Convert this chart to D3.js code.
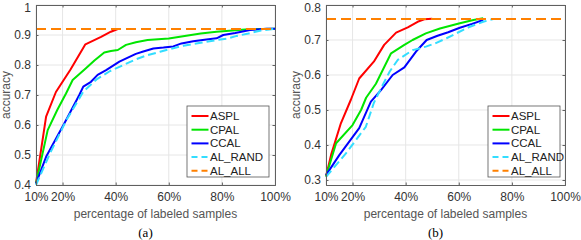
<!DOCTYPE html>
<html><head><meta charset="utf-8">
<script src="https://cdn.jsdelivr.net/npm/d3@7/dist/d3.min.js"></script>
<style>body{margin:0;background:#fff}svg{display:block}</style>
</head><body>
<svg id="c" width="581" height="240"></svg>
<script>
// ---- data ----
const xTicks = [10, 20, 40, 60, 80, 100];
const xTickLabels = ["10%", "20%", "40%", "60%", "80%", "100%"];
const seriesNames = ["ASPL", "CPAL", "CCAL", "AL_RAND", "AL_ALL"];

// panel (a)
const aYTicks = [0.4, 0.5, 0.6, 0.7, 0.8, 0.9, 1];
const aYTickLabels = ["0.4", "0.5", "0.6", "0.7", "0.8", "0.9", "1"];
const aASPL = [[10,0.405],[13.8,0.628],[17.5,0.71],[23,0.785],[28.6,0.869],[34.5,0.894],[38.2,0.911],[40.8,0.92]];
const aCPAL = [[10,0.405],[14.4,0.583],[18,0.65],[21.3,0.705],[23.8,0.75],[28.8,0.789],[32,0.815],[35.7,0.842],[38.2,0.847],[40.8,0.85],[43.9,0.867],[47.6,0.876],[52,0.883],[56,0.886],[60,0.888],[66,0.897],[72,0.905],[78,0.911],[84,0.915],[90,0.919],[100,0.921]];
const aCCAL = [[10,0.405],[13.8,0.494],[20.7,0.606],[26.3,0.70],[27.8,0.728],[30.7,0.744],[33.2,0.767],[36.4,0.783],[41.4,0.811],[47.6,0.837],[50.4,0.845],[54.2,0.855],[58,0.858],[61.7,0.862],[64.8,0.872],[69.2,0.879],[74.2,0.885],[78,0.889],[80.5,0.9],[85,0.907],[90.6,0.917],[96.9,0.921],[100,0.921]];
const aRAND = [[10,0.40],[15.3,0.506],[21.5,0.617],[27.8,0.711],[32.8,0.752],[37.9,0.78],[42.9,0.80],[47.6,0.819],[52,0.833],[56.7,0.844],[61.7,0.856],[65.5,0.864],[72,0.874],[78,0.883],[82,0.888],[85.6,0.897],[90,0.905],[94.3,0.914],[100,0.921]];
const aALL = [[10,0.92],[100,0.92]];

// panel (b)
const bYTicks = [0.3, 0.4, 0.5, 0.6, 0.7, 0.8];
const bYTickLabels = ["0.3", "0.4", "0.5", "0.6", "0.7", "0.8"];
const bASPL = [[10,0.31],[12,0.374],[15.6,0.462],[19.4,0.53],[22.5,0.59],[28,0.638],[31.9,0.686],[36.4,0.721],[40.8,0.736],[44.5,0.752],[47,0.759],[50,0.761]];
const bCPAL = [[10,0.31],[13.8,0.405],[20,0.457],[23.2,0.5],[25.1,0.535],[28.8,0.575],[34.5,0.662],[39.5,0.686],[42.6,0.7],[47.6,0.719],[52.9,0.733],[60.4,0.748],[65.5,0.757],[69.2,0.762]];
const bCCAL = [[10,0.314],[15,0.371],[22.5,0.448],[26.9,0.524],[30.7,0.557],[35.1,0.6],[39.5,0.622],[43.9,0.667],[47.9,0.70],[52,0.712],[56,0.722],[60.4,0.735],[65,0.746],[69.2,0.757]];
const bRAND = [[10,0.309],[17.5,0.376],[25,0.452],[28,0.52],[31.3,0.571],[34,0.61],[37,0.643],[42.6,0.671],[47.6,0.681],[51,0.69],[55.4,0.705],[61.7,0.729],[64.2,0.738],[69.2,0.752],[73,0.76]];
const bALL = [[10,0.76],[100,0.76]];

// ---- drawing ----
const colors = ["#ff0000", "#00e600", "#0000ff", "#33ddff", "#ff8000"];
const dashes = [null, null, null, "8,4", "10,5"];
const svg = d3.select("#c");

const panels = [
  {left:36, right:275, top:5, bottom:185, yDomain:[0.4,1.0], yTicks:aYTicks, yLabels:aYTickLabels,
   series:[aASPL,aCPAL,aCCAL,aRAND,aALL], caption:"(a)", legX:187, legW:82},
  {left:326, right:565, top:5, bottom:185, yDomain:[0.2857,0.8], yTicks:bYTicks, yLabels:bYTickLabels,
   series:[bASPL,bCPAL,bCCAL,bRAND,bALL], caption:"(b)", legX:488, legW:72}
];

const font = "'Liberation Sans', Arial, Helvetica, sans-serif";

panels.forEach(p => {
  const x = d3.scaleLinear().domain([10,100]).range([p.left, p.right]);
  const y = d3.scaleLinear().domain(p.yDomain).range([p.bottom, p.top]);
  const g = svg.append("g");

  // grid
  g.append("g").selectAll("line").data(xTicks).join("line")
    .attr("x1", d => x(d)).attr("x2", d => x(d)).attr("y1", p.top).attr("y2", p.bottom)
    .attr("stroke", "#e6e6e6").attr("stroke-width", 1);
  g.append("g").selectAll("line").data(p.yTicks).join("line")
    .attr("y1", d => y(d)).attr("y2", d => y(d)).attr("x1", p.left).attr("x2", p.right)
    .attr("stroke", "#e6e6e6").attr("stroke-width", 1);

  // series lines
  const line = d3.line().x(d => x(d[0])).y(d => y(d[1]));
  p.series.forEach((s, i) => {
    g.append("path").datum(s).attr("d", line).attr("fill", "none")
      .attr("stroke", colors[i]).attr("stroke-width", 2)
      .attr("stroke-linejoin", "round")
      .attr("stroke-dasharray", dashes[i]);
  });

  // axes
  const xAxis = d3.axisBottom(x).tickValues(xTicks).tickFormat((d,i) => xTickLabels[i]).tickSize(-2.5).tickPadding(7);
  const yAxis = d3.axisLeft(y).tickValues(p.yTicks).tickFormat((d,i) => p.yLabels[i]).tickSize(-2.5).tickPadding(5);
  const xTop = d3.axisTop(x).tickValues(xTicks).tickFormat("").tickSize(-2.5);
  const yRight = d3.axisRight(y).tickValues(p.yTicks).tickFormat("").tickSize(-2.5);
  [[xAxis, `translate(0,${p.bottom})`], [yAxis, `translate(${p.left},0)`],
   [xTop, `translate(0,${p.top})`], [yRight, `translate(${p.right},0)`]].forEach(([ax, tr]) => {
    const a = g.append("g").attr("transform", tr).call(ax);
    a.select(".domain").attr("stroke", "#606060").attr("stroke-width", 1);
    a.selectAll(".tick line").attr("stroke", "#606060");
    a.selectAll("text").attr("font-family", font).attr("font-size", 12).attr("fill", "#333");
  });
  // keep the topmost y tick label inside the picture
  g.selectAll("text").filter(function() { return this.textContent === p.yLabels[p.yLabels.length - 1]; })
    .attr("dy", "0.5em");

  // axis labels
  svg.append("text").attr("x", (p.left + p.right) / 2).attr("y", 218)
    .attr("text-anchor", "middle").attr("font-family", font).attr("font-size", 12)
    .attr("fill", "#555").text("percentage of labeled samples");
  svg.append("text").attr("transform", `translate(${p.left - 26},${(p.top + p.bottom) / 2}) rotate(-90)`)
    .attr("text-anchor", "middle").attr("font-family", font).attr("font-size", 12)
    .attr("fill", "#555").text("accuracy");
  svg.append("text").attr("x", (p.left + p.right) / 2 - 10).attr("y", 237)
    .attr("text-anchor", "middle").attr("font-family", "'Liberation Serif', 'Times New Roman', serif")
    .attr("font-size", 13).attr("fill", "#000").text(p.caption);

  // legend
  const lg = g.append("g");
  const lTop = 106, lH = 71;
  lg.append("rect").attr("x", p.legX).attr("y", lTop).attr("width", p.legW).attr("height", lH)
    .attr("fill", "#fff").attr("stroke", "#555").attr("stroke-width", 0.8);
  seriesNames.forEach((n, i) => {
    const yy = lTop + 10 + i * 13.7;
    lg.append("line").attr("x1", p.legX + 4.5).attr("x2", p.legX + 21.5).attr("y1", yy).attr("y2", yy)
      .attr("stroke", colors[i]).attr("stroke-width", 2).attr("stroke-dasharray", dashes[i] ? "6,4" : null);
    lg.append("text").attr("x", p.legX + 23).attr("y", yy + 4).attr("font-family", font)
      .attr("font-size", 11.5).attr("fill", "#222").text(n);
  });
});
</script>
</body></html>
